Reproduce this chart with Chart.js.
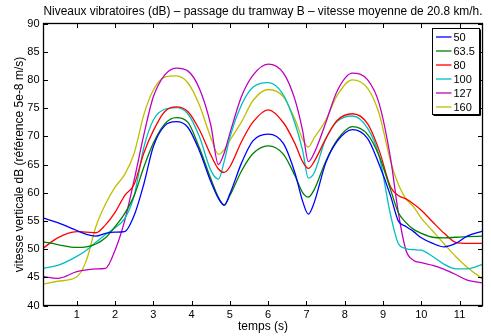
<!DOCTYPE html>
<html>
<head>
<meta charset="utf-8">
<script src="https://cdn.jsdelivr.net/npm/chart.js@4/dist/chart.umd.min.js"></script>
<style>
html,body{margin:0;padding:0;background:#fff;}
canvas{display:block;}
</style>
</head>
<body>
<canvas id="c" width="491" height="336"></canvas>
<script>
// time samples (s)
const times = [0.13,0.5,1,1.25,1.5,1.75,2,2.25,2.5,2.75,3,3.3,3.6,3.9,4.2,4.5,4.7,4.85,5,5.3,5.6,6,6.4,6.7,6.9,7.05,7.2,7.5,7.8,8.2,8.6,8.9,9.2,9.4,9.6,9.8,10,10.3,10.6,10.9,11.2,11.6];
// series labels (Hz)
const seriesLabels = ['50','63.5','80','100','127','160'];
// series values (dB)
const s50  = [55.5,54.7,53.3,52.6,52.3,52.8,53.0,53.1,56.0,61.5,68.2,71.9,72.6,71.6,67.5,62.0,59.0,57.8,59.8,65.2,69.2,70.4,68.7,63.5,58.5,56.2,58.2,65.2,69.1,71.2,69.6,65.0,59.4,55.0,54.0,53.1,52.0,51.0,50.4,51.0,52.3,53.2];
const s63  = [51.3,50.8,50.3,50.4,50.9,52.0,54.0,56.3,59.5,64.5,68.8,72.2,73.3,72.5,68.0,62.5,59.2,57.8,59.5,63.8,66.9,68.3,66.8,63.0,60.0,59.2,60.5,65.5,69.3,71.7,70.3,66.5,60.5,56.5,54.7,53.5,52.8,52.1,52.0,52.1,52.2,52.3];
const s80  = [50.2,52.0,53.1,53.0,52.9,54.3,56.5,59.5,61.5,67.0,71.0,74.4,75.2,74.4,71.2,66.7,64.2,63.6,64.6,69.0,72.5,74.7,72.4,68.7,65.5,64.3,65.5,69.5,72.8,74.0,72.2,67.5,61.0,59.5,58.9,58.0,56.9,54.8,52.8,51.2,51.0,51.0];
const s100 = [46.6,47.1,48.7,49.8,51.2,52.6,53.8,55.4,59.5,68.0,72.9,74.8,75.1,74.0,70.0,64.0,62.4,65.5,69.8,75.5,78.7,79.5,77.3,72.3,67.5,62.6,63.5,69.5,72.6,73.6,71.4,66.5,56.0,51.0,50.1,49.9,49.8,48.7,47.3,46.5,46.5,47.3];
const s127 = [45.1,44.8,46.0,46.3,46.5,46.6,49.8,55.0,62.3,70.2,77.0,80.9,82.1,81.6,78.5,72.0,65.0,67.0,70.5,77.0,80.8,82.8,81.2,76.5,71.0,65.5,67.0,72.3,78.0,81.2,80.0,75.8,66.0,56.5,49.8,48.0,47.6,47.1,46.4,45.5,44.5,44.0];
const s160 = [43.8,44.3,45.1,48.0,54.0,58.0,61.0,63.2,67.0,73.8,78.2,80.5,80.7,79.5,75.6,69.8,66.8,67.6,69.3,72.5,76.3,78.3,77.0,73.0,69.5,68.1,69.7,72.8,77.2,80.0,78.5,74.0,65.5,61.5,58.9,57.5,55.5,53.2,50.9,48.7,46.8,44.7];
const seriesValues = [s50, s63, s80, s100, s127, s160];
const seriesColors = ['#0000ff','#008000','#ff0000','#00bfbf','#bf00bf','#bfbf00'];
// tick labels
const xTicks = [1,2,3,4,5,6,7,8,9,10,11];
const yTicks = [40,45,50,55,60,65,70,75,80,85,90];

const FONT = "'Liberation Sans', Arial, Helvetica, sans-serif";

const frame = {
  id: 'frame',
  afterDatasetsDraw(chart) {
    const {ctx, chartArea: a, scales: {x, y}} = chart;
    ctx.save();
    ctx.strokeStyle = '#000';
    ctx.lineWidth = 1;
    ctx.beginPath();
    const L = 4.5;
    x.ticks.forEach(t => {
      const p = Math.round(x.getPixelForValue(t.value)) + 0.5;
      ctx.moveTo(p, a.bottom); ctx.lineTo(p, a.bottom - L);
      ctx.moveTo(p, a.top); ctx.lineTo(p, a.top + L);
    });
    y.ticks.forEach(t => {
      const p = Math.round(y.getPixelForValue(t.value)) + 0.5;
      ctx.moveTo(a.left, p); ctx.lineTo(a.left + L, p);
      ctx.moveTo(a.right, p); ctx.lineTo(a.right - L, p);
    });
    ctx.stroke();
    ctx.lineWidth = 1.3;
    ctx.strokeRect(a.left, a.top, a.right - a.left, a.bottom - a.top);
    ctx.restore();
  },
  afterDraw(chart) {
    const {ctx} = chart;
    const ds = chart.data.datasets;
    const bx = 432.5, by = 28.5, bw = 47, bh = 86;
    ctx.save();
    ctx.fillStyle = '#fff';
    ctx.fillRect(bx, by, bw, bh);
    ctx.strokeStyle = '#000';
    ctx.lineWidth = 1;
    ctx.strokeRect(bx, by, bw, bh);
    ctx.beginPath();
    ctx.moveTo(bx + bw + 1, by + 1); ctx.lineTo(bx + bw + 1, by + bh + 1); ctx.lineTo(bx + 1, by + bh + 1);
    ctx.stroke();
    ctx.font = '11px ' + FONT;
    ctx.textBaseline = 'middle';
    ctx.textAlign = 'left';
    ds.forEach((d, i) => {
      const yy = 37 + i * 14;
      ctx.strokeStyle = d.borderColor;
      ctx.lineWidth = 1.3;
      ctx.beginPath();
      ctx.moveTo(436, yy); ctx.lineTo(451.5, yy);
      ctx.stroke();
      ctx.fillStyle = '#000';
      ctx.fillText(d.label, 453.5, yy + 0.5);
    });
    ctx.restore();
  }
};

new Chart(document.getElementById('c'), {
  type: 'line',
  data: {
    datasets: seriesValues.map((vals, i) => ({
      label: seriesLabels[i],
      data: times.map((t, j) => ({x: t, y: vals[j]})),
      borderColor: seriesColors[i],
      backgroundColor: seriesColors[i],
      borderWidth: 1.3,
      pointRadius: 0,
      fill: false,
      cubicInterpolationMode: 'monotone'
    }))
  },
  options: {
    responsive: false,
    animation: false,
    devicePixelRatio: 1,
    layout: {padding: {left: 0, right: 8.5, top: 0, bottom: 0}},
    plugins: {
      legend: {display: false},
      tooltip: {enabled: false},
      title: {
        display: true,
        fullSize: false,
        text: 'Niveaux vibratoires (dB) – passage du tramway B – vitesse moyenne de 20.8 km/h.',
        color: '#000',
        font: {family: FONT, size: 12, weight: 'normal'},
        padding: {top: 4.5, bottom: 4.6}
      }
    },
    scales: {
      x: {
        type: 'linear',
        min: 0.13,
        max: 11.6,
        afterBuildTicks: s => { s.ticks = xTicks.map(v => ({value: v})); },
        afterFit: s => { s.height = 30.5; },
        grid: {display: false, drawTicks: false},
        border: {display: false},
        ticks: {color: '#000', font: {family: FONT, size: 11}, padding: 3, maxRotation: 0, autoSkip: false},
        title: {display: true, text: 'temps (s)', color: '#000', font: {family: FONT, size: 12}, padding: {top: 0, bottom: 2.6}}
      },
      y: {
        type: 'linear',
        min: 40,
        max: 90,
        afterBuildTicks: s => { s.ticks = yTicks.map(v => ({value: v})); },
        afterFit: s => { s.width = 43.5; },
        grid: {display: false, drawTicks: false},
        border: {display: false},
        ticks: {color: '#000', font: {family: FONT, size: 11}, padding: 4, autoSkip: false},
        title: {display: true, text: 'vitesse verticale dB (référence 5e-8 m/s)', color: '#000', font: {family: FONT, size: 12}, padding: {top: 12, bottom: 0}}
      }
    }
  },
  plugins: [frame]
});
</script>
</body>
</html>
